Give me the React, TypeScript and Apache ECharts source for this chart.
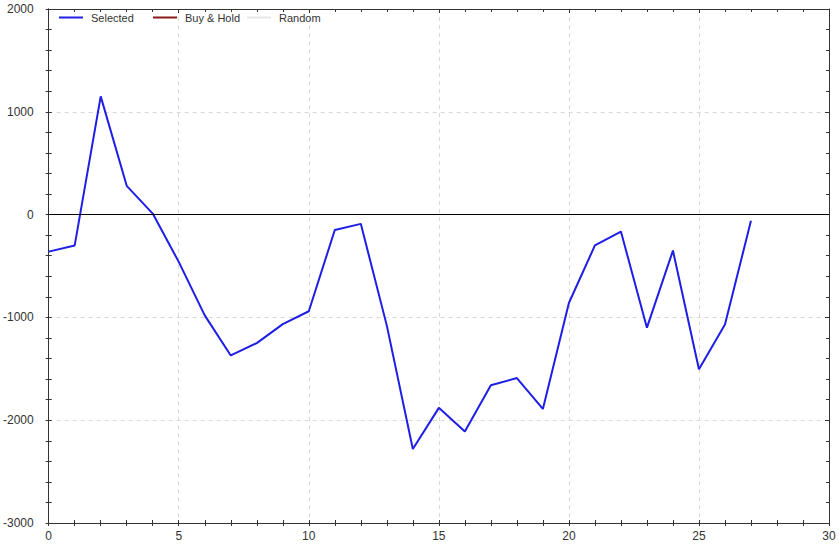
import React, { useEffect, useRef } from "react";
import * as echarts from "echarts";

const xValues = [0, 1, 2, 3, 4, 5, 6, 7, 8, 9, 10, 11, 12, 13, 14, 15, 16, 17, 18, 19, 20, 21, 22, 23, 24, 25, 26, 27];
const selectedValues = [-360, -300, 1150, 280, 10, -460, -980, -1370, -1250, -1065, -940, -150, -90, -1080, -2280, -1880, -2110, -1660, -1590, -1890, -860, -300, -165, -1100, -350, -1505, -1070, -60];
const buyHoldValues: number[] = [];
const randomValues: number[] = [];
const seriesNames = ["Selected", "Buy & Hold", "Random"];
const seriesColors = ["#1e1ee6", "#8b1a1a", "#e6e6e6"];

const X_MIN = 0, X_MAX = 30, X_STEP = 5;
const Y_MIN = -3000, Y_MAX = 2000, Y_STEP = 1000;

export default function App() {
  const ref = useRef<HTMLDivElement>(null);
  useEffect(() => {
    if (!ref.current) return;
    const chart = echarts.init(ref.current, undefined, { renderer: "svg" });
    const font = { fontFamily: "Liberation Sans, Arial, sans-serif", fontSize: 12, color: "#333" };
    const axisLine = { show: true, onZero: false, lineStyle: { color: "#333", width: 1 } };
    const splitLine = { show: true, lineStyle: { color: "#d8d8d8", type: [4, 4] as any, width: 1 } };
    const baseX = { type: "value" as const, min: X_MIN, max: X_MAX, interval: X_STEP };
    const baseY = { type: "value" as const, min: Y_MIN, max: Y_MAX, interval: Y_STEP };
    const fmt = (v: number) => String(v);
    const dataSel = xValues.map((x, i) => [x, selectedValues[i]]);
    const legendLefts = [59, 153, 247];
    chart.setOption({
      animation: false,
      backgroundColor: "#fff",
      grid: { left: 48, right: 10, top: 9, bottom: 24, containLabel: false },
      legend: seriesNames.map((n, i) => ({
        left: legendLefts[i],
        top: 12,
        padding: 0,
        itemWidth: 24,
        itemHeight: 2,
        icon: "rect",
        textStyle: { ...font, fontSize: 11, padding: [0, 0, 0, 3] },
        data: [{ name: n, itemStyle: { color: seriesColors[i] } }],
      })),
      xAxis: [
        {
          ...baseX, position: "bottom", axisLine, splitLine,
          axisTick: { show: true, inside: false, length: 3, lineStyle: { color: "#333" } },
          minorTick: { show: true, splitNumber: 5, length: 3, lineStyle: { color: "#333" } },
          axisLabel: { ...font, margin: 7, formatter: fmt },
        },
        {
          ...baseX, position: "bottom", axisLine, splitLine: { show: false },
          axisTick: { show: true, inside: true, length: 3, lineStyle: { color: "#333" } },
          minorTick: { show: true, splitNumber: 5, length: 3, lineStyle: { color: "#333" } },
          axisLabel: { show: false },
        },
        {
          ...baseX, position: "top", axisLine, splitLine: { show: false },
          axisTick: { show: true, inside: true, length: 4, lineStyle: { color: "#333" } },
          minorTick: { show: true, splitNumber: 5, length: 3, lineStyle: { color: "#333" } },
          axisLabel: { show: false },
        },
      ],
      yAxis: [
        {
          ...baseY, position: "left", axisLine, splitLine,
          axisTick: { show: true, inside: false, length: 3, lineStyle: { color: "#333" } },
          minorTick: { show: true, splitNumber: 5, length: 3, lineStyle: { color: "#333" } },
          axisLabel: { ...font, margin: 15, formatter: fmt },
        },
        {
          ...baseY, position: "left", axisLine, splitLine: { show: false },
          axisTick: { show: true, inside: true, length: 3, lineStyle: { color: "#333" } },
          minorTick: { show: true, splitNumber: 5, length: 3, lineStyle: { color: "#333" } },
          axisLabel: { show: false },
        },
        {
          ...baseY, position: "right", axisLine, splitLine: { show: false },
          axisTick: { show: true, inside: true, length: 4, lineStyle: { color: "#333" } },
          minorTick: { show: true, splitNumber: 5, length: 3, lineStyle: { color: "#333" } },
          axisLabel: { show: false },
        },
      ],
      series: [
        {
          name: seriesNames[0],
          type: "line",
          data: dataSel,
          showSymbol: false,
          symbol: "none",
          lineStyle: { color: seriesColors[0], width: 2 },
          itemStyle: { color: seriesColors[0] },
          markLine: {
            silent: true,
            symbol: "none",
            label: { show: false },
            lineStyle: { color: "#000", type: "solid", width: 1 },
            data: [{ yAxis: 0 }],
          },
          z: 3,
        },
        {
          name: seriesNames[1],
          type: "line",
          data: buyHoldValues,
          symbol: "none",
          lineStyle: { color: seriesColors[1], width: 2 },
          itemStyle: { color: seriesColors[1] },
        },
        {
          name: seriesNames[2],
          type: "line",
          data: randomValues,
          symbol: "none",
          lineStyle: { color: seriesColors[2], width: 2 },
          itemStyle: { color: seriesColors[2] },
        },
      ],
    });
    return () => chart.dispose();
  }, []);
  return <div ref={ref} style={{ width: 839, height: 547, position: "absolute", left: 0, top: 0 }} />;
}
